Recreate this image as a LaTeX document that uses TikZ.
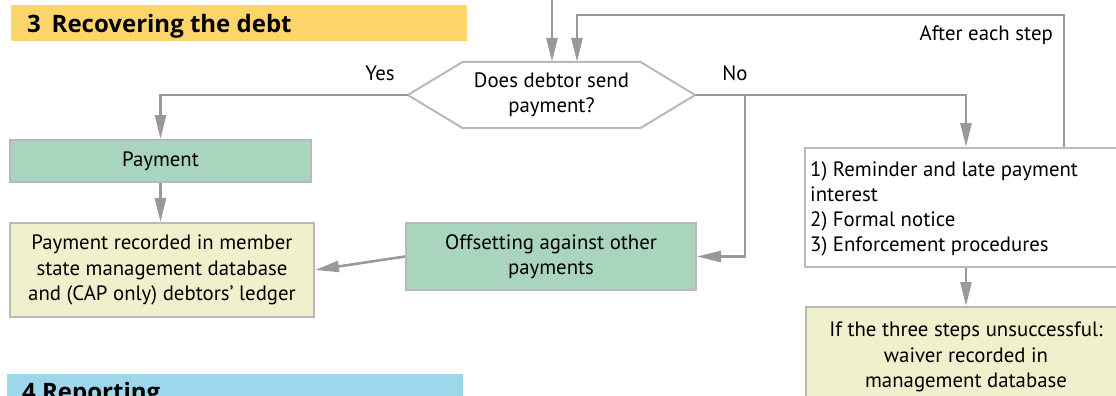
\documentclass[tikz,border=0pt]{standalone}
\usepackage{fontspec}
\setmainfont{PT Sans}
\newfontfamily\titlefont{Open Sans}
\usetikzlibrary{arrows.meta,calc}
\definecolor{titleyellow}{RGB}{254,213,106}
\definecolor{titleblue}{RGB}{157,215,236}
\definecolor{boxgreen}{RGB}{169,213,190}
\definecolor{boxyellow}{RGB}{240,240,204}
\definecolor{linegray}{RGB}{153,153,153}
\definecolor{bordergray}{RGB}{185,185,185}
\tikzset{
  base/.style={font=\fontsize{20.8}{25.3}\selectfont, text=black, align=center, inner sep=0pt},
  box/.style={base, draw=bordergray, line width=2pt},
  greenbox/.style={box, fill=boxgreen},
  yellowbox/.style={box, fill=boxyellow},
  whitebox/.style={box, fill=white},
  conn/.style={draw=linegray, line width=2.6pt},
  arr/.style={conn, -{Triangle[length=24pt,width=11pt]}},
  lbl/.style={font=\fontsize{20.8}{25}\selectfont, inner sep=0pt},
  titlebar/.style={inner sep=0pt, anchor=north west},
  titletext/.style={font=\titlefont\fontsize{24}{28}\selectfont\bfseries, inner sep=0pt, anchor=base west}
}
\begin{document}
\begin{tikzpicture}[x=1pt,y=-1pt]
\useasboundingbox (0,0) rectangle (1116,396);
\clip (0,0) rectangle (1116,396);
% section titles
\node (t3) [titlebar, fill=titleyellow, minimum width=456pt, minimum height=36pt] at (11,5) {};
\node (t3txt) [titletext] at (27,32.5) {3\hspace{0.45em}Recovering the debt};
\node (t4) [titlebar, fill=titleblue, minimum width=456pt, minimum height=40pt] at (7,374) {};
\node (t4txt) [titletext] at (22,400) {4 Reporting};
% decision
\node (q) [base, minimum width=287pt, minimum height=66pt] at (551.5,95) {};
\draw[draw=bordergray, line width=2pt, fill=white] (q.west) -- ($(q.north west)+(55,0)$) -- ($(q.north east)+(-55,0)$) -- (q.east) -- ($(q.south east)+(-55,0)$) -- ($(q.south west)+(55,0)$) -- cycle;
\node (qtxt) [base] at (q) {Does debtor send\\payment?};
% boxes
\node (pay) [greenbox, minimum width=301pt, minimum height=42pt] at (160.5,161) {Payment};
\node (rec) [yellowbox, minimum width=304pt, minimum height=94pt] at (162,270) {Payment recorded in member\\state management database\\and (CAP only) debtors’ ledger};
\node (off) [greenbox, minimum width=290pt, minimum height=67pt] at (551,256.5) {Offsetting against other\\payments};
\node (rem) [whitebox, minimum width=322pt, minimum height=119pt, align=left, text width=312pt] at (966,207.5) {};
\node (remtxt) [base, align=left, anchor=north west] at (810,161) {1) Reminder and late payment\\interest\\2) Formal notice\\3) Enforcement procedures};
\node (waiv) [yellowbox, minimum width=320pt, minimum height=110pt, anchor=north] at (966,306) {};
\node (waivtxt) [base, anchor=north] at (966,322) {If the three steps unsuccessful:\\waiver recorded in\\management database};
% labels
\node (yes) [lbl] at (380,73) {Yes};
\node (no) [lbl] at (735,73) {No};
\node (after) [lbl, anchor=east] at (1053,35) {After each step};
% connectors
\coordinate (in1) at (552,-2);
\coordinate (loopR) at (1064,15);
\coordinate (nb) at (745,96);
\draw[arr] (in1) -- (in1 |- q.north);
\draw[arr] (rem.north -| loopR) -- (loopR) -| ([xshift=25.5pt]q.north);
\draw[arr] (q.west) -| (pay.north);
\draw[arr] (q.east) -| (rem.north);
\draw[arr] (nb) |- (off.east);
\draw[arr] (pay.south) -- (pay.south |- rec.north);
\draw[arr] (off.west) -- (rec.east);
\draw[arr] (rem.south) -- (waiv.north);
\end{tikzpicture}
\end{document}
